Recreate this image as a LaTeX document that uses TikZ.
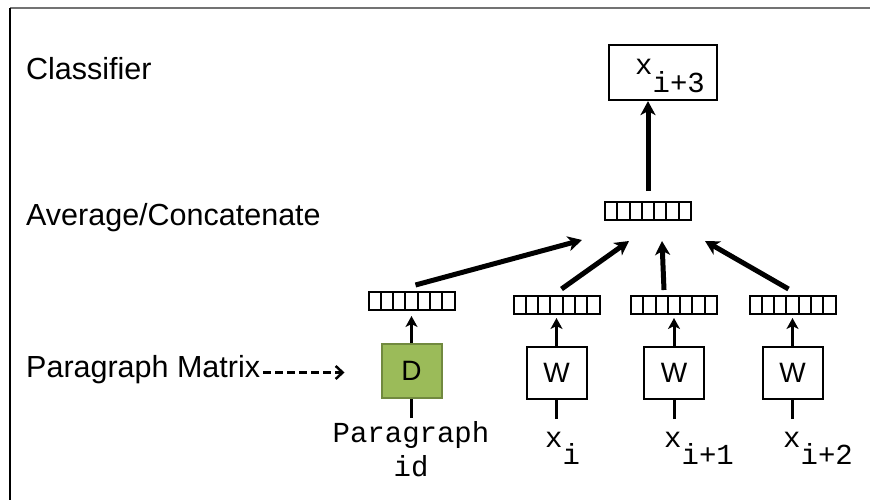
\documentclass[tikz,border=0pt]{standalone}
\usepackage{fontspec}
\setmainfont{Liberation Sans}
\setmonofont{Liberation Mono}
\usetikzlibrary{positioning}
\usetikzlibrary{arrows.meta,calc}

\definecolor{pgreen}{HTML}{9BBB59}
\definecolor{pgreenline}{HTML}{71893F}

\tikzset{
    vecbox/.style={draw, line width=2pt, minimum width=86pt, minimum height=18pt, inner sep=0pt,
        path picture={
            \foreach \k in {1,...,6}
                \draw[line width=2pt]
                    ($(path picture bounding box.south west)!\k/7!(path picture bounding box.south east)$) --
                    ($(path picture bounding box.north west)!\k/7!(path picture bounding box.north east)$);
        }},
    wbox/.style={draw, line width=2pt, minimum width=60pt, minimum height=52pt, inner sep=0pt,
        font=\fontsize{28}{32}\selectfont},
    sidelabel/.style={inner sep=0pt, anchor=base west, font=\fontsize{30.5}{36}\selectfont},
    monolabel/.style={inner sep=0pt, font=\fontsize{29}{34}\ttfamily\selectfont}
}

\begin{document}
\begin{tikzpicture}[x=1pt, y=-1pt]
    \useasboundingbox (0,0) rectangle (870,500);
    %frame
    \draw[black!55, line width=1.5pt] (870,8) -- (10,8);
    \draw[line width=1.5pt] (10,8) -- (10,500);

    %left side labels
    \node[sidelabel] (cl) at (26,80) {Classifier};
    \node[sidelabel] (ac) at (26,225) {Average/Concatenate};
    \node[sidelabel] (pm) at (26,377) {Paragraph Matrix};

    %input matrices
    \node[wbox, fill=pgreen, draw=pgreenline, minimum height=54pt] (d) at (411.5,371) {D};
    \node[wbox] (wa) at (556.5,373) {W};
    \node[wbox] (wb) at (674,373) {W};
    \node[wbox] (wc) at (792.5,373) {W};

    %vectors
    \node[vecbox, above=32pt of d] (vd) {};
    \node[vecbox, above=31pt of wa] (va) {};
    \node[vecbox, above=31pt of wb] (vb) {};
    \node[vecbox, above=31pt of wc] (vc) {};
    \node[vecbox] (avg) at (648,211) {};

    %classifier
    \node[draw, line width=2.2pt, minimum width=108pt, minimum height=55pt] (cls) at (663,72.5) {};
    \node[monolabel, anchor=base west] (xo) at (635,75) {x\raisebox{-18pt}{i+3}};

    %input words
    \node[monolabel, align=center, anchor=base] (pid) at (411,476) {Paragraph\\[0pt]id};
    \node[monolabel, anchor=base west] (xa) at (545,447) {x\raisebox{-17pt}{i}};
    \node[monolabel, anchor=base west] (xb) at (664,447) {x\raisebox{-17pt}{i+1}};
    \node[monolabel, anchor=base west] (xc) at (783,447) {x\raisebox{-17pt}{i+2}};

    %Lines
    \begin{scope}[>={Stealth[length=14pt,width=15pt,inset=4pt]}]
        \foreach \b in {d,wa,wb,wc} {
            \coordinate (\b-in) at ([yshift=-19pt]\b.south);
            \draw[line width=3pt] (\b-in) -- (\b.south);
        }
        \draw[->, >={Stealth[length=11pt,width=12pt,inset=3pt]}, line width=3pt, shorten >=5pt] (d.north) -- (vd.south);
        \draw[->, >={Stealth[length=11pt,width=12pt,inset=3pt]}, line width=3pt, shorten >=3pt] (wa.north) -- (va.south);
        \draw[->, >={Stealth[length=11pt,width=12pt,inset=3pt]}, line width=3pt, shorten >=3pt] (wb.north) -- (vb.south);
        \draw[->, >={Stealth[length=11pt,width=12pt,inset=3pt]}, line width=3pt, shorten >=3pt] (wc.north) -- (vc.south);

        \draw[->, line width=5pt] ([xshift=4pt,yshift=6pt]vd.north) -- ([xshift=-66pt,yshift=-19pt]avg.south);
        \draw[->, line width=5pt] ([xshift=5pt,yshift=6pt]va.north) -- ([xshift=-19pt,yshift=-20pt]avg.south);
        \draw[->, line width=5pt] ([xshift=-10pt,yshift=5pt]vb.north) -- ([xshift=14pt,yshift=-20pt]avg.south);
        \draw[->, line width=5pt] ([xshift=-4pt,yshift=6pt]vc.north) -- ([xshift=57pt,yshift=-20pt]avg.south);

        \draw[->, line width=5pt, shorten <=10pt] (avg.north) -- (avg.north |- cls.south);

        \draw[-{Straight Barb[length=7pt,width=13pt]}, line width=2.5pt, dash pattern=on 8pt off 4pt,
            shorten <=3pt, shorten >=36pt] ([yshift=4.5pt]pm.base east) -- ([yshift=4.5pt]pm.base east -| d.west);
    \end{scope}
\end{tikzpicture}
\end{document}
